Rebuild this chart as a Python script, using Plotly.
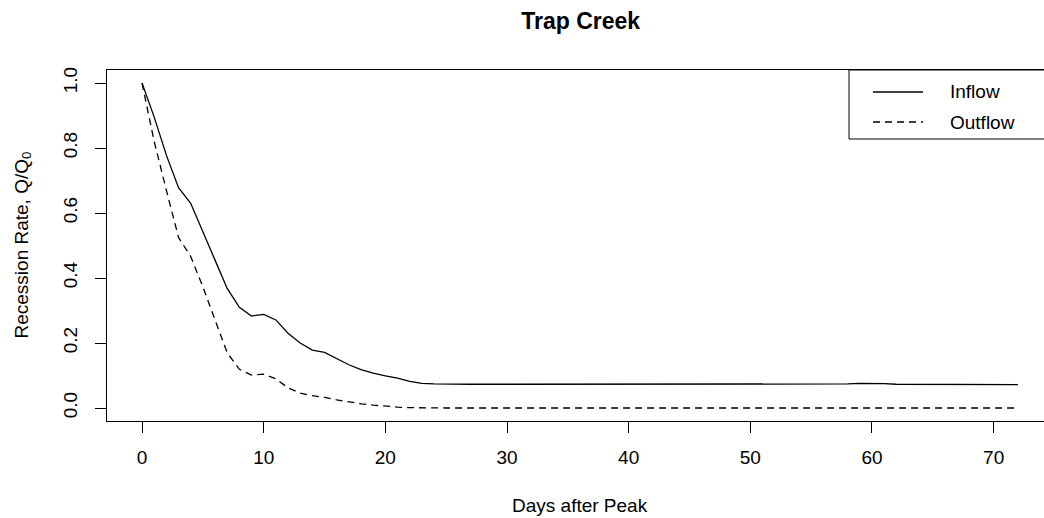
import plotly.graph_objects as go

days = list(range(0, 73))

inflow = [1.000, 0.895, 0.778, 0.678, 0.630, 0.545, 0.455, 0.368, 0.310, 0.283,
          0.288, 0.271, 0.230, 0.200, 0.178, 0.171, 0.153, 0.133, 0.118, 0.107,
          0.099, 0.092, 0.082, 0.076, 0.074, 0.073, 0.073, 0.073, 0.073, 0.073,
          0.073, 0.073, 0.074, 0.073, 0.073, 0.073, 0.073, 0.073, 0.073, 0.073,
          0.073, 0.073, 0.073, 0.073, 0.073, 0.074, 0.075, 0.074, 0.073, 0.073,
          0.073, 0.073, 0.074, 0.074, 0.073, 0.073, 0.073, 0.073, 0.074, 0.076,
          0.076, 0.075, 0.073, 0.073, 0.073, 0.073, 0.074, 0.074, 0.073, 0.073,
          0.073, 0.072, 0.072]

outflow = [1.000, 0.820, 0.670, 0.525, 0.466, 0.373, 0.271, 0.170, 0.119, 0.101,
           0.104, 0.090, 0.062, 0.046, 0.038, 0.033, 0.025, 0.018, 0.013, 0.009,
           0.005, 0.003, 0.001] + [0.0] * 50

x_ticks = [0, 10, 20, 30, 40, 50, 60, 70]
y_ticks = [0.0, 0.2, 0.4, 0.6, 0.8, 1.0]

W, H = 1044, 518
L, T, B = 107, 70, 421
R = W
pw, ph = R - L, B - T

def px_x(p):
    return (p - L) / pw

def px_y(p):
    return (B - p) / ph

FONT = "Liberation Sans, Arial, Helvetica, sans-serif"
FS = 19

fig = go.Figure()
fig.add_trace(go.Scatter(x=days, y=inflow, mode="lines", name="Inflow",
                         line=dict(color="black", width=1.3), showlegend=False))
fig.add_trace(go.Scatter(x=days, y=outflow, mode="lines", name="Outflow",
                         line=dict(color="black", width=1.3, dash="7px,5px"),
                         showlegend=False))

pxday = 946 / 77.76
fig.update_layout(
    width=W, height=H,
    margin=dict(l=L, r=0, t=T, b=H - B, pad=0),
    plot_bgcolor="white", paper_bgcolor="white",
    font=dict(family=FONT, size=FS, color="black"),
    xaxis=dict(range=[-2.88, -2.88 + pw / pxday], tickvals=x_ticks,
               showgrid=False, zeroline=False, showline=True, linecolor="black",
               linewidth=1, mirror=True, ticks="outside", ticklen=11,
               tickcolor="black", tickwidth=1, ticklabelstandoff=8),
    yaxis=dict(range=[-0.04, 1.04], tickvals=y_ticks, tickformat=".1f",
               tickangle=-90, showgrid=False, zeroline=False, showline=True,
               linecolor="black", linewidth=1, mirror=False, ticks="outside",
               ticklen=11, tickcolor="black", tickwidth=1, ticklabelstandoff=10),
    title=dict(text="<b>Trap Creek</b>", x=580.7 / W, xanchor="center",
               y=1 - 20.5 / H, yanchor="middle",
               font=dict(family=FONT, size=23, color="black")),
)

# axis titles
fig.add_annotation(text="Days after Peak", xref="paper", yref="paper",
                   x=px_x(580), y=px_y(505), showarrow=False,
                   xanchor="center", yanchor="middle", font=dict(size=FS))
fig.add_annotation(text="Recession Rate, Q/Q<sub>0</sub>", xref="paper", yref="paper",
                   x=px_x(22), y=0.5, showarrow=False, textangle=-90,
                   xanchor="center", yanchor="middle", font=dict(size=FS))

# legend box (R-style, top-right)
fig.add_shape(type="rect", xref="paper", yref="paper",
              x0=px_x(849), x1=px_x(1060), y0=px_y(139), y1=px_y(70),
              line=dict(color="black", width=1), fillcolor="white", layer="above")
legend_rows = [("Inflow", "solid", 92), ("Outflow", "7px,5px", 122)]
for name, dash, yy in legend_rows:
    fig.add_shape(type="line", xref="paper", yref="paper",
                  x0=px_x(873), x1=px_x(923), y0=px_y(yy), y1=px_y(yy),
                  line=dict(color="black", width=1.3, dash=dash), layer="above")
    fig.add_annotation(text=name, xref="paper", yref="paper",
                       x=px_x(948), y=px_y(yy), showarrow=False,
                       xanchor="left", yanchor="middle", font=dict(size=FS))

fig.write_html("out.html")
